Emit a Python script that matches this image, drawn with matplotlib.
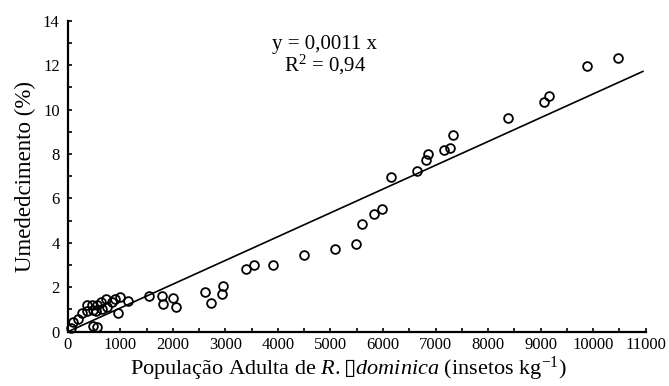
import matplotlib.pyplot as plt
from matplotlib.ticker import MultipleLocator

# adult population (insects/kg) and moisture increase (%)
populacao = [60, 89, 196, 261, 356, 368, 451, 470, 482, 527, 546, 558, 623, 642,
             724, 749, 838, 895, 958, 990, 1149, 1549, 1785, 1816, 2006, 2057,
             2610, 2718, 2928, 2958, 3390, 3549, 3898, 4495, 5086, 5480, 5606,
             5834, 5987, 6147, 6654, 6813, 6851, 7162, 7276, 7327, 8387, 9067,
             9168, 9880, 10470]
umedecimento = [0.18, 0.45, 0.57, 0.86, 1.2, 0.93, 1.2, 0.26, 0.98, 0.95, 1.2, 0.2,
                1.35, 1.0, 1.46, 1.1, 1.35, 1.46, 0.86, 1.58, 1.4, 1.6, 1.6, 1.25,
                1.5, 1.13, 1.77, 1.31, 1.7, 2.07, 2.81, 2.99, 3.0, 3.45, 3.72, 3.93,
                4.85, 5.3, 5.51, 6.98, 7.25, 7.73, 8.0, 8.18, 8.29, 8.86, 9.61,
                10.36, 10.62, 11.94, 12.31]

# regression through origin as drawn in the figure
line_x = [0, 10950]
line_slope = 0.00107
equacao = "y = 0,0011 x"
r2_txt = "R$^2$ = 0,94"

plt.rcParams["font.family"] = ["Liberation Serif", "DejaVu Sans"]
plt.rcParams["mathtext.fontset"] = "custom"
plt.rcParams["mathtext.rm"] = "Liberation Serif"
plt.rcParams["mathtext.it"] = "Liberation Serif:italic"
plt.rcParams["mathtext.sf"] = "DejaVu Sans"

fig = plt.figure(figsize=(6.69, 3.86), dpi=100)
ax = fig.add_axes([0.1016, 0.1407, 0.8633, 0.8057])

ax.plot(line_x, [line_slope * v for v in line_x], color="black", lw=1.2)
ax.plot(populacao, umedecimento, "o", ms=6.3, mfc="none", mec="black", mew=1.3,
        clip_on=False)

ax.set_xlim(0, 11000)
ax.set_ylim(0, 14)
ax.xaxis.set_major_locator(MultipleLocator(1000))
ax.xaxis.set_minor_locator(MultipleLocator(500))
ax.yaxis.set_major_locator(MultipleLocator(2))
ax.yaxis.set_minor_locator(MultipleLocator(1))
ax.tick_params(which="both", direction="in", length=3, width=1.2, labelsize=12,
               pad=4)
ax.tick_params(axis="y", pad=6)

for side in ["top", "right"]:
    ax.spines[side].set_visible(False)
for side in ["left", "bottom"]:
    ax.spines[side].set_linewidth(1.6)

ax.text(0.445, 0.925, equacao, transform=ax.transAxes, ha="center", va="center",
        fontsize=15)
ax.text(0.445, 0.858, r2_txt, transform=ax.transAxes, ha="center", va="center",
        fontsize=15)

ax.set_ylabel("Umededcimento (%)", fontsize=16.5, labelpad=5)
ax.set_xlabel("População Adulta de $\\it{R.}$$\\mathsf{\u25af}$$\\it{dominica}$ (insetos kg$^{-1}$)",
              fontsize=16, labelpad=0)
ax.xaxis.set_label_coords(0.485, -0.075)

fig.savefig("out.png", dpi=100)
